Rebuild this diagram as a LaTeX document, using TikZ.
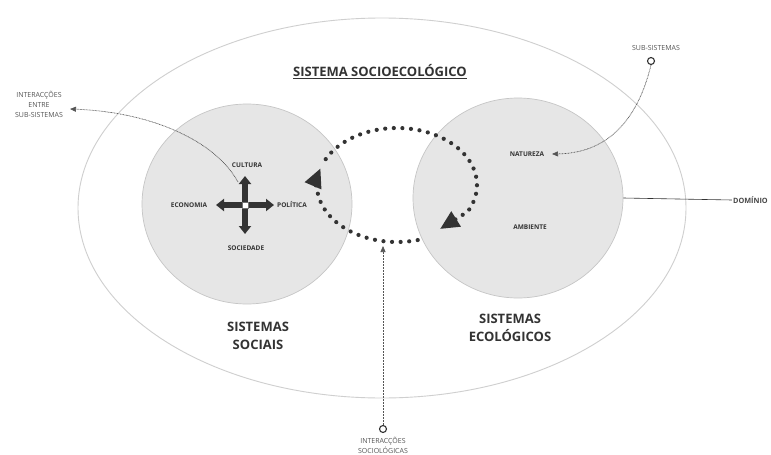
\documentclass[tikz,border=0pt]{standalone}
\usepackage{fontspec}
\setmainfont{Open Sans}
\usetikzlibrary{arrows.meta,calc,shapes.geometric}
\definecolor{ink}{HTML}{333333}
\definecolor{soft}{HTML}{555555}
\definecolor{disc}{HTML}{E6E6E6}
\definecolor{rim}{HTML}{C6C6C6}
\definecolor{outerrim}{HTML}{CFCFCF}
\begin{document}
\begin{tikzpicture}[x=1pt,y=-1pt,
  outerring/.style={ellipse, draw=outerrim, line width=0.9pt, inner sep=0pt},
  subsys/.style={ellipse, draw=rim, fill=disc, line width=0.7pt, inner sep=0pt},
  bigtext/.style={font=\fontsize{13}{18.5}\selectfont\bfseries, text=ink, align=center},
  tag/.style={font=\fontsize{6.5}{8}\selectfont\bfseries, text=ink, inner sep=1pt},
  note/.style={font=\fontsize{7}{10}\selectfont, text=soft, align=center, inner sep=1pt},
  dots/.style={draw=ink, line width=4.2pt, line cap=round, dash pattern=on 0pt off 8.6pt},
  bighead/.style={-{Triangle[length=19pt,width=17pt]}},
  thinline/.style={draw=soft, line width=0.7pt, dash pattern=on 0.8pt off 0.7pt},
  smallhead/.style={-{Triangle[length=6pt,width=5pt]}},
  crossarr/.style={draw=ink, line width=5.5pt, -{Triangle[length=8pt,width=12pt]}},
  ringdot/.style={circle, draw=ink, line width=1.1pt, minimum size=7pt, inner sep=0pt},
]
\useasboundingbox (0,0) rectangle (771,455);
\fill[white] (0,0) rectangle (771,455);

% outer domain
\node[outerring, minimum width=608, minimum height=380] (dom) at (382,208) {};

% sub-systems
\node[subsys, minimum width=210, minimum height=200] (soc) at (247,204) {};
\node[subsys, minimum width=210, minimum height=200] (eco) at (518,198) {};

% title
\node[bigtext] (title) at (380,72) {\underline{SISTEMA SOCIOECOLÓGICO}};

% big labels
\node[bigtext] (soclbl) at (258,336) {SISTEMAS\\SOCIAIS};
\node[bigtext] (ecolbl) at (510,328) {SISTEMAS\\ECOLÓGICOS};

% tags in social system
\node[tag] (cult) at (247,165) {CULTURA};
\node[tag] (econ) at (189,205) {ECONOMIA};
\node[tag] (pol) at (292,205) {POLÍTICA};
\node[tag] (socd) at (246,248) {SOCIEDADE};

% tags in ecological system
\node[tag] (nat) at (527,154) {NATUREZA};
\node[tag] (amb) at (530,227) {AMBIENTE};

% cross of arrows
\coordinate (cc) at (245,205);
\coordinate (cup) at (245,176);
\coordinate (cdown) at (245,234);
\coordinate (cleft) at (216,205);
\coordinate (cright) at (274,205);
\draw[crossarr] (cc) -- (cup);
\draw[crossarr] (cc) -- (cdown);
\draw[crossarr] (cc) -- (cleft);
\draw[crossarr] (cc) -- (cright);
\filldraw[fill=white, draw=ink!70, line width=0.4pt] ($(cc)+(-2.8,-2.8)$) rectangle ($(cc)+(2.8,2.8)$);

% dotted interaction loop
\coordinate (lc) at (397,185);
\draw[dots, bighead] ($(lc)+(75:80 and 57)$) arc[start angle=75, end angle=197, x radius=80, y radius=57];
\coordinate (rtip) at (440,229);
\draw[dots, bighead] ($(lc)+(207:80 and 57)$) arc[start angle=207, end angle=388, x radius=80, y radius=57] -- (rtip);

% notes
\node[note] (ies) at (39,104) {INTERACÇÕES\\ENTRE\\SUB-SISTEMAS};
\coordinate (iestip) at (70,109);
\coordinate (iesstart) at (238,182);
\draw[thinline, smallhead] (iesstart) .. controls (215,140) and (150,112) .. (iestip);

\node[note] (sslbl) at (656,48) {SUB-SISTEMAS};
\node[ringdot] (ssdot) at (651,61) {};
\coordinate (nattip) at (552,154);
\draw[thinline, smallhead] (ssdot.south) .. controls (640,110) and (615,153) .. (nattip);

\node[anchor=east, font=\fontsize{7.3}{10}\selectfont\bfseries, text=ink!90, inner sep=1pt] (domlbl) at (769,200) {DOMÍNIO};
\draw[draw=ink, line width=0.6pt] (eco.east) -- (domlbl.west);

\node[ringdot] (isdot) at (383,429) {};
\node[note, anchor=north] (islbl) at (383,436) {INTERACÇÕES\\SOCIOLÓGICAS};
\coordinate (istip) at (383,246);
\draw[thinline, smallhead] (isdot.north) -- (istip);
\end{tikzpicture}
\end{document}
